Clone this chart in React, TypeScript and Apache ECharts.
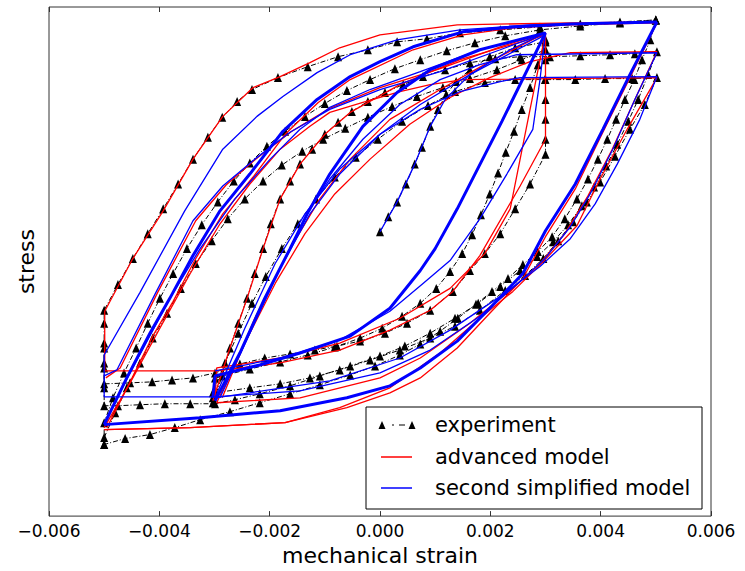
import { useEffect, useRef } from "react";
import * as echarts from "echarts";

type P = [number, number];
// strain in units of 1e-3, stress in arbitrary units (axis labels hidden)

const xTicks = [-6, -4, -2, 0, 2, 4, 6];

// ---------- experiment ----------
const expInitial: P[] = [[0,30],[0.15,45],[0.31,60],[0.47,78],[0.63,98],[0.76,115],[0.91,136],[1.05,153],[1.2,168],[1.38,181],[1.63,193],[1.99,206],[2.45,215],[3.0,221]];
const expRelaxOuter: P[] = [[3.0,221],[3.0,203],[3.0,183],[3.0,163],[3.0,143],[3.0,123],[3.0,108],[2.72,78],[2.45,53],[2.18,28],[1.9,8],[1.63,-9],[1.32,-30],[0.91,-49],[0.49,-62],[0.09,-72],[-0.36,-80],[-0.78,-85],[-1.18,-89],[-1.63,-93],[-2.09,-97],[-2.54,-103],[-2.99,-112],[-3.39,-117],[-3.77,-119],[-4.13,-121],[-4.53,-122],[-5.0,-123],[-5.0,-102],[-5.0,-82],[-5.0,-62],[-5.0,-49],[-4.75,-23],[-4.48,3],[-4.21,28],[-3.93,53],[-3.66,78],[-3.39,103],[-3.12,125],[-2.86,145],[-2.59,161],[-2.32,173],[-1.85,185],[-1.31,196],[-0.76,206],[-0.22,213],[0.31,221],[0.85,224],[1.45,230],[2.18,233],[2.9,236],[3.63,239],[4.35,241],[5.0,243]];
const expBigUnload: P[] = [[5.0,243],[4.9,223],[4.75,203],[4.61,183],[4.44,163],[4.28,143],[4.12,123],[3.95,103],[3.77,83],[3.57,63],[3.35,43],[3.12,25],[2.86,10],[2.59,-3],[2.32,-17],[2.03,-30],[1.74,-43],[1.41,-57],[1.09,-70],[0.73,-83],[0.36,-94],[-0.09,-105],[-0.54,-114],[-1.09,-124],[-1.63,-133],[-2.18,-142],[-2.72,-151],[-3.26,-159],[-3.72,-167],[-4.17,-174],[-4.62,-178],[-5.0,-184]];
const expBigLoad: P[] = [[-5.0,-184],[-5.0,-162],[-4.84,-137],[-4.64,-112],[-4.42,-87],[-4.21,-62],[-3.99,-37],[-3.75,-12],[-3.5,13],[-3.23,37],[-2.94,60],[-2.65,81],[-2.36,99],[-2.05,116],[-1.72,131],[-1.36,146],[-1.0,159],[-0.6,172],[-0.18,183],[0.27,194],[0.73,203],[1.21,212],[1.72,220],[2.27,227],[2.9,233],[3.63,237],[4.35,240],[5.0,243]];
const expCreepHigh: P[] = [[-3.03,-142],[-2.86,-115],[-2.72,-87],[-2.57,-62],[-2.41,-37],[-2.27,-12],[-2.12,13],[-1.98,38],[-1.81,63],[-1.63,81],[-1.45,98],[-1.23,113],[-1.0,128],[-0.76,140],[-0.51,151],[-0.22,161],[0.09,170],[0.42,178],[0.78,186],[1.18,193],[1.63,200],[2.09,204],[2.54,206],[3.08,206],[3.63,207],[4.17,208],[4.62,209],[5.02,211],[4.86,188],[4.68,163],[4.5,141],[4.3,118],[4.1,96],[3.88,75],[3.66,56],[3.41,37],[3.14,20],[2.85,5],[2.54,-9],[2.18,-25],[1.78,-42],[1.36,-57],[0.91,-72],[0.45,-85],[0,-95],[-0.54,-105],[-1.09,-115],[-1.63,-125],[-2.18,-133],[-2.63,-139],[-2.99,-143],[-3.44,-143],[-3.9,-143],[-4.35,-144],[-4.75,-145],[-5.0,-145],[-5.0,-127],[-5.0,-107],[-5.0,-87]];
const expCreepLow: P[] = [[-3.03,-132],[-2.81,-102],[-2.57,-72],[-2.32,-42],[-2.07,-15],[-1.78,13],[-1.49,38],[-1.16,63],[-0.82,85],[-0.44,105],[-0.04,123],[0.4,141],[0.87,157],[1.36,171],[1.9,180],[2.45,183],[2.99,183],[3.54,183],[4.08,184],[4.57,184],[5.02,185],[4.8,158],[4.53,133],[4.26,106],[3.99,80],[3.75,60],[3.5,40],[3.23,21],[2.96,3],[2.63,-14],[2.27,-29],[1.81,-49],[1.36,-65],[0.91,-77],[0.36,-89],[-0.18,-99],[-0.73,-109],[-1.27,-117],[-1.81,-123],[-2.36,-127],[-2.99,-132]];
const expInnerUnload: P[] = [[3.0,223],[2.86,198],[2.72,175],[2.57,153],[2.43,131],[2.28,110],[2.14,89],[1.99,68],[1.83,47],[1.67,27],[1.49,8],[1.27,-10],[1.02,-27],[0.73,-42],[0.4,-55],[0.04,-67],[-0.36,-77],[-0.82,-86],[-1.31,-94],[-1.81,-101],[-2.36,-108],[-2.99,-117],[-3.03,-137]];
const expLoadToPeak: P[] = [[-5.0,-177],[-4.8,-152],[-4.59,-127],[-4.35,-102],[-4.12,-77],[-3.86,-52],[-3.61,-27],[-3.34,-2],[-3.05,21],[-2.76,43],[-2.45,63],[-2.12,81],[-1.78,97],[-1.41,111],[-1.03,123],[-0.63,134],[-0.22,145],[0.22,156],[0.67,166],[1.14,175],[1.63,184],[2.12,193],[2.57,203],[3.0,213]];

// ---------- advanced model (red) ----------
const redBigLoad: P[] = [[-4.95,-167],[-4.52,-120],[-4.12,-75],[-3.75,-40],[-3.34,3],[-2.85,48],[-2.3,85],[-1.72,128],[-1.12,160],[-0.54,183],[0.6,213],[1.5,228],[2.41,235],[3.45,238],[5.02,240]];
const redBigUnload: P[] = [[5.02,240],[4.53,185],[4.04,130],[3.54,73],[3.0,25],[2.59,-17],[1.99,-52],[1.4,-87],[0.73,-117],[0.18,-132],[-0.6,-147],[-1.72,-162],[-3.44,-167],[-5.0,-169]];
const redOuter: P[] = [[3.0,230],[3.0,123],[2.54,76],[1.81,6],[1.32,-30],[0.91,-49],[0.18,-69],[-0.73,-89],[-1.81,-102],[-2.96,-110],[-4.99,-110],[-4.99,-50],[-4.48,3],[-3.93,51],[-3.39,103],[-2.85,146],[-2.3,175],[-1.81,186],[-1.27,200],[-0.73,215],[0,228],[1.4,238],[3.45,240],[5.02,241]];
const redCreepLow: P[] = [[-5.0,-167],[-4.53,-122],[-3.99,-67],[-3.44,-12],[-2.9,38],[-2.36,78],[-1.81,113],[-1.27,136],[-0.91,150],[-0.31,160],[0.36,171],[0.91,178],[1.5,183],[5.02,185],[4.48,133],[3.99,83],[3.57,36],[2.96,0],[2.41,-30],[1.81,-57],[1.09,-92],[0.18,-127],[-0.73,-147],[-1.72,-162],[-3.44,-167],[-5.0,-169]];
const redCreepHigh: P[] = [[-2.96,-142],[-2.45,-82],[-1.9,-22],[-1.36,28],[-0.82,68],[-0.18,103],[0.54,138],[1.27,165],[1.99,185],[2.72,201],[3.45,210],[5.02,211],[4.62,163],[4.21,113],[3.77,66],[3.35,28],[2.9,-2],[2.36,-29],[1.63,-62],[0.73,-97],[0,-117],[-1.45,-137],[-2.96,-142]];
const redInnerLoad: P[] = [[-3.03,-140],[-2.72,-87],[-2.41,-37],[-2.12,13],[-1.81,63],[-1.45,98],[-1.0,128],[-0.54,150],[0.36,178],[1.45,203],[3.0,228]];
const redInnerLoad2: P[] = [[-2.86,-137],[-2.27,-57],[-1.63,13],[-1.09,63],[-0.54,103],[0.18,143],[1.09,173],[1.99,201],[3.0,230]];
const redInnerUnload: P[] = [[3.0,230],[2.72,153],[2.36,53],[1.9,8],[1.27,-27],[0.36,-57],[-0.73,-82],[-1.81,-97],[-2.96,-107],[-2.99,-137]];
const redThird: P[] = [[-4.97,-117],[-4.71,-107],[-4.03,-31],[-3.34,41],[-2.79,77],[-2.21,105],[-1.6,131],[-0.91,154],[0,175],[1.09,194],[2.18,216],[3.0,230]];

// ---------- second simplified model (blue) ----------
const blueBigLoad: P[] = [[-5.0,-164],[-4.59,-117],[-4.17,-72],[-3.81,-37],[-3.39,6],[-2.9,51],[-2.36,88],[-1.76,131],[-1.14,163],[-0.54,186],[0,201],[0.6,216],[1.5,231],[2.41,236],[3.45,239],[5.02,241]];
const blueBigUnload: P[] = [[5.02,241],[4.53,188],[4.04,133],[3.54,78],[3.0,31],[2.59,-12],[1.99,-47],[1.4,-80],[0.73,-107],[0.18,-125],[-0.6,-137],[-1.81,-150],[-3.26,-157],[-5.0,-164]];
const blueCreepHigh: P[] = [[-2.99,-140],[-2.54,-92],[-2.09,-37],[-1.63,13],[-1.27,53],[-0.91,83],[-0.31,123],[0.36,158],[1.09,183],[1.81,198],[2.48,208],[5.02,210],[4.62,163],[4.22,113],[3.81,68],[3.45,35],[2.99,3],[2.54,-20],[1.81,-55],[0.91,-89],[0,-112],[-1.45,-130],[-2.99,-136]];
const blueOuter: P[] = [[-2.99,-136],[-5.0,-136],[-5.0,-94],[-4.35,-31],[-3.54,51],[-2.85,113],[-2.23,146],[-1.76,166],[-1.14,190],[-0.54,208],[0.31,223],[1.45,233],[2.72,238],[5.02,241]];
const blueCreepLow: P[] = [[-2.99,-137],[-2.45,-67],[-1.9,-2],[-1.36,48],[-0.73,93],[0,128],[0.73,153],[1.45,171],[2.18,181],[2.54,185],[5.02,186],[4.71,143],[4.3,98],[3.9,58],[3.45,23],[2.9,-5],[2.18,-35],[1.27,-69],[0.36,-97],[-0.91,-120],[-2.36,-132],[-2.99,-137]];
const blueInnerLoad: P[] = [[-2.99,-140],[-2.54,-92],[-2.09,-37],[-1.63,13],[-1.32,48],[-0.91,88],[-0.31,136],[0.31,170],[0.91,193],[1.81,213],[3.0,230]];
const blueInnerLoad2: P[] = [[-2.9,-137],[-2.36,-72],[-1.81,-7],[-1.27,48],[-0.73,88],[0,128],[0.73,158],[1.63,188],[3.0,228]];
const blueInnerUnload: P[] = [[3.0,230],[2.21,141],[1.4,53],[1.0,13],[0.73,-9],[0.18,-47],[-0.54,-75],[-1.45,-92],[-2.18,-104],[-2.99,-115],[-3.03,-137]];
const blueInnerUnload2: P[] = [[3.0,230],[2.9,183],[2.77,133],[2.3,88],[1.81,43],[1.27,1],[0.78,-22],[0.18,-50],[-0.73,-79],[-1.81,-97],[-2.99,-110]];
const blueInitial: P[] = [[0,30],[0.31,60],[0.63,98],[0.91,136],[1.18,163],[1.63,188],[2.36,213],[3.0,230]];
const blueLoadToPeak: P[] = [[-5.0,-162],[-4.53,-112],[-3.81,-37],[-3.26,13],[-2.63,63],[-1.99,103],[-1.45,133],[-0.91,155],[-0.18,173],[0.73,191],[1.81,213],[3.0,230]];
const blueThird: P[] = [[-5.0,-115],[-4.77,-109],[-4.08,-33],[-3.39,41],[-2.85,76],[-2.27,103],[-1.63,130],[-0.91,153],[0,173],[1.09,191],[2.18,213],[3.0,230]];

const expCurves = [expInitial, expRelaxOuter, expBigUnload, expBigLoad, expCreepHigh, expCreepLow, expInnerUnload, expLoadToPeak];
const redCurves = [redBigLoad, redBigUnload, redOuter, redCreepLow, redCreepHigh, redInnerLoad, redInnerLoad2, redInnerUnload, redThird];
const blueThin = [blueCreepHigh, blueOuter, blueCreepLow, blueInnerLoad2, blueInitial, blueLoadToPeak, blueThird, blueInnerUnload2];
const blueThick = [blueBigLoad, blueBigUnload, blueInnerLoad, blueInnerUnload];

const legendLabels = ["experiment", "advanced model", "second simplified model"];

const FONT = '"DejaVu Sans", "Liberation Sans", sans-serif';

function fmt(v: number) {
  const s = Math.abs(v / 1000).toFixed(3);
  return v < 0 ? "\u2212" + s : s;
}

export default function App() {
  const ref = useRef<HTMLDivElement>(null);
  useEffect(() => {
    const chart = echarts.init(ref.current!, null, { renderer: "svg" });
    const series: any[] = [];
    expCurves.forEach((d) =>
      series.push({
        type: "line",
        name: legendLabels[0],
        data: d,
        xAxisIndex: 0,
        yAxisIndex: 0,
        symbol: "triangle",
        symbolSize: [8, 9],
        showSymbol: true,
        itemStyle: { color: "#000" },
        lineStyle: { color: "#000", width: 1, type: [5, 2, 1, 2] },
        z: 2,
      })
    );
    redCurves.forEach((d) =>
      series.push({
        type: "line",
        name: legendLabels[1],
        data: d,
        xAxisIndex: 0,
        yAxisIndex: 0,
        symbol: "none",
        lineStyle: { color: "#ff0000", width: 1.3 },
        z: 3,
      })
    );
    blueThin.forEach((d) =>
      series.push({
        type: "line",
        name: legendLabels[2],
        data: d,
        xAxisIndex: 0,
        yAxisIndex: 0,
        symbol: "none",
        lineStyle: { color: "#0000ff", width: 1.3 },
        z: 4,
      })
    );
    blueThick.forEach((d) =>
      series.push({
        type: "line",
        name: legendLabels[2],
        data: d,
        xAxisIndex: 0,
        yAxisIndex: 0,
        symbol: "none",
        lineStyle: { color: "#0000ff", width: 3 },
        z: 4,
      })
    );

    const lx = 366, ly = 407, lw = 336, lh = 102;
    const rows = [425, 457, 488];
    const graphic: any[] = [
      { type: "rect", z: 100, shape: { x: lx, y: ly, width: lw, height: lh }, style: { fill: "#fff", stroke: "#000", lineWidth: 1 } },
      { type: "polygon", z: 101, shape: { points: [[378.5, rows[0] + 4], [382, rows[0] - 4], [385.5, rows[0] + 4]] }, style: { fill: "#000" } },
      { type: "polygon", z: 101, shape: { points: [[408.5, rows[0] + 4], [412, rows[0] - 4], [415.5, rows[0] + 4]] }, style: { fill: "#000" } },
      { type: "line", z: 101, shape: { x1: 392, y1: rows[0], x2: 394, y2: rows[0] }, style: { stroke: "#000", lineWidth: 1 } },
      { type: "line", z: 101, shape: { x1: 399, y1: rows[0], x2: 405, y2: rows[0] }, style: { stroke: "#000", lineWidth: 1 } },
      { type: "line", z: 101, shape: { x1: 381, y1: rows[1], x2: 412, y2: rows[1] }, style: { stroke: "#ff0000", lineWidth: 1.5 } },
      { type: "line", z: 101, shape: { x1: 381, y1: rows[2], x2: 412, y2: rows[2] }, style: { stroke: "#0000ff", lineWidth: 1.5 } },
    ];
    legendLabels.forEach((t, i) =>
      graphic.push({
        type: "text",
        z: 101,
        x: 435,
        y: rows[i],
        style: { text: t, font: `21px ${FONT}`, fill: "#000", textVerticalAlign: "middle" },
      })
    );

    chart.setOption({
      animation: false,
      grid: { left: 49, right: 34, top: 7, bottom: 52, show: true, borderColor: "#333", borderWidth: 1 },
      xAxis: [
        {
          type: "value",
          min: xTicks[0],
          max: xTicks[xTicks.length - 1],
          interval: 2,
          position: "bottom",
          axisLine: { show: false, onZero: false },
          axisTick: { show: true, inside: true, length: 5, lineStyle: { color: "#333" } },
          axisLabel: { formatter: fmt, color: "#000", fontSize: 17, fontFamily: FONT, margin: 6 },
          splitLine: { show: false },
          name: "mechanical strain",
          nameLocation: "middle",
          nameGap: 27,
          nameTextStyle: { color: "#000", fontSize: 22, fontFamily: FONT },
        },
        {
          type: "value",
          min: xTicks[0],
          max: xTicks[xTicks.length - 1],
          interval: 2,
          position: "top",
          axisLine: { show: false, onZero: false },
          axisTick: { show: true, inside: true, length: 5, lineStyle: { color: "#333" } },
          axisLabel: { show: false },
          splitLine: { show: false },
        },
      ],
      yAxis: {
        type: "value",
        min: -256,
        max: 256,
        axisLine: { show: false, onZero: false },
        axisTick: { show: false },
        axisLabel: { show: false },
        splitLine: { show: false },
        name: "stress",
        nameLocation: "middle",
        nameRotate: 90,
        nameGap: 12,
        nameTextStyle: { color: "#000", fontSize: 22, fontFamily: FONT },
      },
      series,
      graphic,
    });
    return () => chart.dispose();
  }, []);
  return <div ref={ref} style={{ position: "fixed", left: 0, top: 0, width: 745, height: 571, background: "#fff" }} />;
}
